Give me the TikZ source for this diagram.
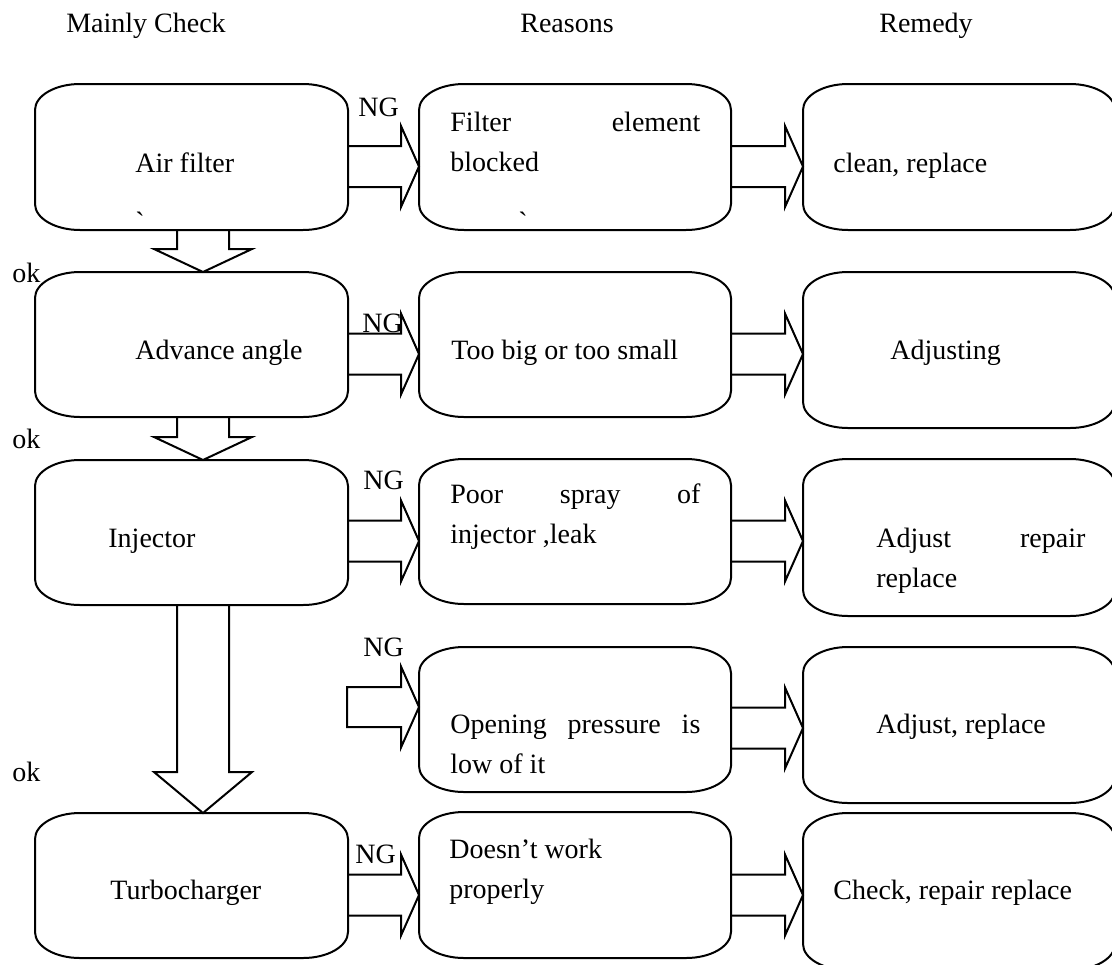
\documentclass[tikz,border=0pt]{standalone}
\usepackage{fontspec}
\setmainfont{Liberation Serif}
\usetikzlibrary{calc}
\tikzset{
  box/.style={draw=none, rectangle, inner sep=0pt, outer sep=0pt},
  boxline/.style={draw=black, line width=1pt},
  arrowline/.style={draw=black, line width=1pt, line join=miter},
  txt/.style={anchor=base west, inner sep=0pt, font=\fontsize{14}{20}\selectfont},
  head/.style={anchor=base, inner sep=0pt, font=\fontsize{14}{20}\selectfont},
}
% rounded box with elliptic corners drawn round an (invisible) node
\newcommand\roundbox[1]{%
  \draw[boxline] ([xshift=22.5pt]#1.north west) -- ([xshift=-22.5pt]#1.north east)
    arc[start angle=90,end angle=0,x radius=22.5pt,y radius=13pt]
    -- ([yshift=13pt]#1.south east)
    arc[start angle=0,end angle=-90,x radius=22.5pt,y radius=13pt]
    -- ([xshift=22.5pt]#1.south west)
    arc[start angle=270,end angle=180,x radius=22.5pt,y radius=13pt]
    -- ([yshift=-13pt]#1.north west)
    arc[start angle=180,end angle=90,x radius=22.5pt,y radius=13pt] -- cycle;}
\newcommand\mkbox[5]{%
  \node[box, minimum width={(#4-#2)*0.5pt}, minimum height={(#5-#3)*0.5pt}]
    (#1) at ({(#2+#4)/2},{(#3+#5)/2}) {};
  \roundbox{#1}}
% horizontal block arrow from node #1 to node #2 at centre y #3
\newcommand\harr[3]{%
  \path (#1.east |- 0,#3) coordinate (hs) (#2.west |- 0,#3) coordinate (ht);
  \draw[arrowline] ($(hs)+(0,-20.5)$) -- ($(ht)+(-18,-20.5)$) -- ($(ht)+(-18,-40.5)$)
    -- (ht) -- ($(ht)+(-18,40.5)$) -- ($(ht)+(-18,20.5)$) -- ($(hs)+(0,20.5)$);}
% vertical block arrow from node #1 to node #2 at centre x #3, head length #4
\newcommand\varr[4]{%
  \path (#1.south -| #3,0) coordinate (vs) (#2.north -| #3,0) coordinate (vt);
  \draw[arrowline] ($(vs)+(-26,0)$) -- ($(vt)+(-26,-#4)$) -- ($(vt)+(-49,-#4)$)
    -- (vt) -- ($(vt)+(49,-#4)$) -- ($(vt)+(26,-#4)$) -- ($(vs)+(26,0)$);}
\begin{document}
\begin{tikzpicture}[x=0.5pt,y=-0.5pt]
\useasboundingbox (0,0) rectangle (1112,964);
% headers
\node[head] (h1) at (146,32) {Mainly Check};
\node[head] (h2) at (567,32) {Reasons};
\node[head] (h3) at (926,32) {Remedy};
% boxes
\mkbox{A1}{35}{84}{348}{230}
\mkbox{A2}{35}{272}{348}{417}
\mkbox{A3}{35}{460}{348}{605}
\mkbox{A5}{35}{813}{348}{958}
\mkbox{B1}{419}{84}{731}{230}
\mkbox{B2}{419}{272}{731}{417}
\mkbox{B3}{419}{459}{731}{604}
\mkbox{B4}{419}{647}{731}{792}
\mkbox{B5}{419}{812}{731}{958}
\mkbox{C1}{803}{84}{1115}{230}
\mkbox{C2}{803}{272}{1115}{428}
\mkbox{C3}{803}{459}{1115}{616}
\mkbox{C4}{803}{647}{1115}{803}
\mkbox{C5}{803}{813}{1115}{970}
% arrows
\harr{A1}{B1}{166.5}
\harr{B1}{C1}{166.5}
\harr{A2}{B2}{354}
\harr{B2}{C2}{354}
\harr{A3}{B3}{541}
\harr{B3}{C3}{541}
\coordinate (n4) at (347,707);
\draw[arrowline] ($(n4)+(0,-20)$) -- ($(B4.west |- n4)+(-18,-20)$) -- ($(B4.west |- n4)+(-18,-40.5)$)
  -- (B4.west |- n4) -- ($(B4.west |- n4)+(-18,40.5)$) -- ($(B4.west |- n4)+(-18,20)$)
  -- ($(n4)+(0,20)$) -- cycle;
\harr{B4}{C4}{728}
\harr{A5}{B5}{895}
\harr{B5}{C5}{895}
\varr{A1}{A2}{203}{23}
\varr{A2}{A3}{203}{23}
\varr{A3}{A5}{203}{41}
% texts, column 1
\node[txt] (tA1) at (135,172) {Air filter};
\node[head] (g1) at (140,231) {\textasciigrave};
\node[txt] (tA2) at (135,359) {Advance angle};
\node[txt] (tA3) at (108,547) {Injector};
\node[txt] (tA5) at (110,899) {Turbocharger};
% column 2
\node[txt] (tB1) at (450,131) {\parbox[t]{125pt}{\makebox[125pt][s]{Filter\hfill element}\\blocked}};
\node[head] (g2) at (523,231) {\textasciigrave};
\node[txt] (tB2) at (451,359) {Too big or too small};
\node[txt] (tB3) at (450,503) {\parbox[t]{125pt}{\makebox[125pt][s]{Poor\hfill spray\hfill of}\\injector ,leak}};
\node[txt] (tB4) at (450,733) {\parbox[t]{125pt}{\makebox[125pt][s]{Opening\hfill pressure\hfill is}\\low of it}};
\node[txt] (tB5) at (449,858) {\parbox[t]{125pt}{Doesn’t work\\properly}};
% column 3
\node[txt] (tC1) at (833,172) {clean, replace};
\node[txt] (tC2) at (890,359) {Adjusting};
\node[txt] (tC3) at (876,547) {\parbox[t]{104.5pt}{\makebox[104.5pt][s]{Adjust\hfill repair}\\replace}};
\node[txt] (tC4) at (876,733) {Adjust, replace};
\node[txt] (tC5) at (833,899) {Check, repair replace};
% NG labels
\node[txt] (ng1) at (358,116) {NG};
\node[txt] (ng2) at (362,332) {NG};
\node[txt] (ng3) at (363,489) {NG};
\node[txt] (ng4) at (363,656) {NG};
\node[txt] (ng5) at (355,863) {NG};
% ok labels
\node[txt] (ok1) at (12,282) {ok};
\node[txt] (ok2) at (12,448) {ok};
\node[txt] (ok3) at (12,781) {ok};
\end{tikzpicture}
\end{document}
